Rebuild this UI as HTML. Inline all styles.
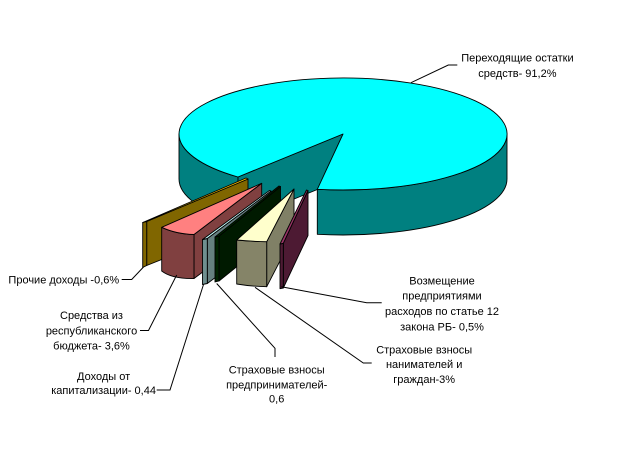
<!DOCTYPE html>
<html><head><meta charset="utf-8">
<style>
html,body{margin:0;padding:0;background:#fff;}
svg{display:block;}
text{font-family:"Liberation Sans",Arial,sans-serif;font-size:11px;fill:#000;}
</style></head>
<body>
<svg width="637" height="452" viewBox="0 0 637 452" xmlns="http://www.w3.org/2000/svg">
<rect width="637" height="452" fill="#fff"/>
<g stroke="#000" stroke-width="0.9" stroke-linejoin="round">
  <!-- main cyan pie -->
  <path d="M507,134 A164,56 0 0 1 317.3,189.3 L317.3,234.3 A164,56 0 0 0 507,179 Z" fill="#008080"/>
  <path d="M238,177 A164,56 0 0 1 179,134 L179,179 A164,56 0 0 0 238,222 Z" fill="#008080"/>
  <path d="M238,177 L343,134 L343,179 L238,222 Z" fill="#008080"/>
  <path d="M343,134 L238,177 A164,56 0 1 1 317.3,189.3 Z" fill="#00FFFF"/>

  <!-- olive slice -->
  <polygon points="146.7,221.5 248,179 248,225 146.7,265.5" fill="#806600"/>
  <polygon points="142.7,222.5 146.7,221.5 146.7,265.5 142.7,267.5" fill="#806600"/>
  <polygon points="142.7,222.5 246,178 248,179 146.7,221.5" fill="#FFCC00"/>

  <!-- pink slice -->
  <polygon points="194,234.5 261.7,183.3 261.7,228.3 194,278.5" fill="#804040"/>
  <path d="M161.7,227.3 Q176,234 194,234.5 L194,278.5 Q172,279 161.7,271 Z" fill="#804040"/>
  <path d="M161.7,227.3 L261.7,183.3 L194,234.5 Q176,234 161.7,227.3 Z" fill="#FF8080"/>

  <!-- grey slice -->
  <polygon points="207.3,238.5 271,191 271,236 207.3,283.5" fill="#668080"/>
  <polygon points="202.5,239.5 207.3,238.5 207.3,283.5 202.5,284.5" fill="#6F8F8F"/>
  <polygon points="202.5,239.5 269.5,190.5 271,191 207.3,238.5" fill="#CCFFFF"/>

  <!-- dark green slice -->
  <polygon points="219,236 280.5,186.5 280.5,231.5 219,281" fill="#001A00"/>
  <polygon points="215,237 219,236 219,281 215,282" fill="#002200"/>
  <polygon points="215,237 279,186 280.5,186.5 219,236" fill="#003300"/>

  <!-- khaki slice -->
  <polygon points="266.7,241.7 294,189 294,234 266.7,286.7" fill="#808066"/>
  <path d="M236.7,240 Q252,241.5 266.7,241.7 L266.7,286.7 Q252,286.5 236.7,284 Z" fill="#858468"/>
  <path d="M236.7,240 L294,189 L266.7,241.7 Q252,241.5 236.7,240 Z" fill="#FFFFCC"/>

  <!-- purple slice -->
  <polygon points="283.3,243.3 308,190.5 308,235.5 283.3,288" fill="#4D1A33"/>
  <polygon points="280,244 283.3,243.3 283.3,288 280,288.7" fill="#4D1A33"/>
  <polygon points="280,244 306.5,190 308,190.5 283.3,243.3" fill="#993366"/>
</g>

<!-- leader lines -->
<g stroke="#000" stroke-width="1" fill="none">
  <polyline points="411,82.7 448.3,65 457.3,65"/>
  <polyline points="121.7,279.5 131.7,279.5 143.5,267"/>
  <polyline points="140,330.5 148.5,330.5 176.7,275"/>
  <polyline points="156.7,390 170,390 203.5,284.5"/>
  <polyline points="216.7,283.5 275,348.3 275,357"/>
  <polyline points="255,287.3 363.3,363 371.7,363"/>
  <polyline points="281.3,286.7 366.7,302.7 381.7,302.7"/>
</g>

<!-- labels -->
<g text-anchor="middle">
  <text x="517.4" y="61.3">Переходящие остатки</text>
  <text x="517.4" y="76.8">средств- 91,2%</text>

  <text x="63.8" y="283.3">Прочие доходы -0,6%</text>

  <text x="91.5" y="319">Средства из</text>
  <text x="91.5" y="334.7">республиканского</text>
  <text x="91.5" y="349.7">бюджета- 3,6%</text>

  <text x="103.6" y="380">Доходы от</text>
  <text x="103.6" y="394">капитализации- 0,44</text>

  <text x="276.7" y="373.3">Страховые взносы</text>
  <text x="276.7" y="388.3">предпринимателей-</text>
  <text x="276.7" y="402.3">0,6</text>

  <text x="424.2" y="353.3">Страховые взносы</text>
  <text x="424.2" y="368">нанимателей и</text>
  <text x="424.2" y="383">граждан-3%</text>

  <text x="442" y="284.3">Возмещение</text>
  <text x="442" y="299.3">предприятиями</text>
  <text x="442" y="315.2">расходов по статье 12</text>
  <text x="442" y="330.5">закона РБ- 0,5%</text>
</g>
</svg>
</body></html>
